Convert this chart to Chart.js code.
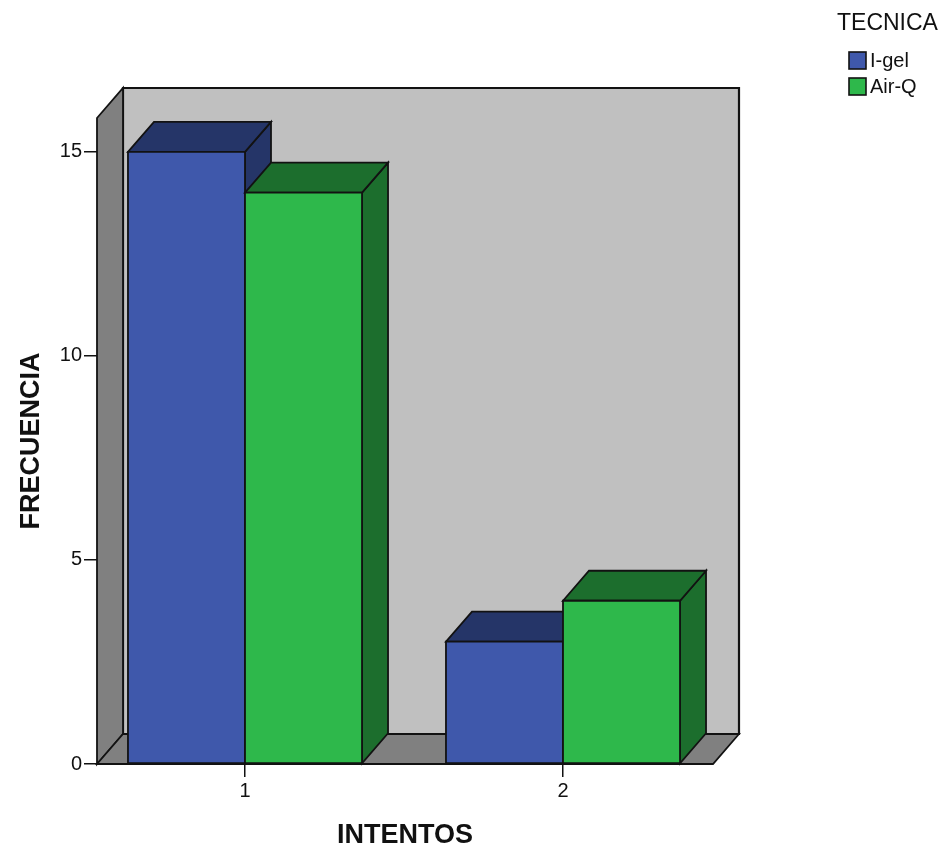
<!DOCTYPE html>
<html>
<head>
<meta charset="utf-8">
<script src="https://cdn.jsdelivr.net/npm/chart.js@4/dist/chart.umd.min.js"></script>
<style>
  html, body { margin: 0; padding: 0; background: #ffffff; }
  #wrap { width: 945px; height: 850px; }
</style>
</head>
<body>
<div id="wrap"><canvas id="chart" width="945" height="850"></canvas></div>
<script>
// Number of attempts (INTENTOS) per technique (TECNICA)
const categories = ['1', '2'];
const seriesNames = ['I-gel', 'Air-Q'];
const igelValues = [15, 3];
const airqValues = [14, 4];
const yTickValues = [0, 5, 10, 15];

// Numeric positions of the categories along the x axis
const positions = categories.map((c, i) => i + 1);

const FRONT = ['#3f58ab', '#2eb84b'];
const SHADE = ['#253568', '#1c6e2d'];
const DX = 26, DY = -30;          // depth offset of the 3D box
const EDGE = '#121212';

function poly(ctx, pts, fill, stroke, lw) {
  ctx.beginPath();
  ctx.moveTo(pts[0][0], pts[0][1]);
  for (let k = 1; k < pts.length; k++) ctx.lineTo(pts[k][0], pts[k][1]);
  ctx.closePath();
  ctx.fillStyle = fill;
  ctx.fill();
  ctx.lineWidth = lw;
  ctx.strokeStyle = stroke;
  ctx.stroke();
}

// Draws the walls, the floor and the bars as boxes using the bar geometry
const box3d = {
  id: 'box3d',
  beforeDatasetsDraw(chart) {
    const { ctx, chartArea: a } = chart;
    const L = a.left, R = a.right, T = a.top, B = a.bottom;
    ctx.save();
    ctx.lineJoin = 'miter';
    poly(ctx, [[L + DX, T + DY], [R + DX, T + DY], [R + DX, B + DY], [L + DX, B + DY]], '#c0c0c0', EDGE, 2.2);
    poly(ctx, [[L, B], [L, T], [L + DX, T + DY], [L + DX, B + DY]], '#808080', EDGE, 1.8);
    poly(ctx, [[L, B], [R, B], [R + DX, B + DY], [L + DX, B + DY]], '#808080', EDGE, 1.8);

    const metas = chart.data.datasets.map((d, i) => chart.getDatasetMeta(i));
    for (let j = 0; j < categories.length; j++) {
      for (let i = 0; i < metas.length; i++) {
        const el = metas[i].data[j];
        if (!el) continue;
        const p = el.getProps(['x', 'y', 'base', 'width'], true);
        const xl = p.x - p.width / 2, xr = p.x + p.width / 2;
        const top = Math.min(p.y, p.base), bot = Math.max(p.y, p.base);
        // side face
        poly(ctx, [[xr, top], [xr + DX, top + DY], [xr + DX, bot + DY], [xr, bot]], SHADE[i], EDGE, 1.8);
        // top face
        poly(ctx, [[xl, top], [xr, top], [xr + DX, top + DY], [xl + DX, top + DY]], SHADE[i], EDGE, 1.8);
        // front face
        poly(ctx, [[xl, top], [xr, top], [xr, bot], [xl, bot]], FRONT[i], EDGE, 1.8);
      }
    }
    ctx.restore();
    return false;
  },
  afterDraw(chart) {
    const ctx = chart.ctx;
    ctx.save();
    ctx.fillStyle = '#111';
    ctx.textBaseline = 'middle';
    ctx.textAlign = 'left';
    ctx.font = '23px "Liberation Sans", Arial, sans-serif';
    ctx.fillText('TECNICA', 837, 24);
    ctx.font = '20px "Liberation Sans", Arial, sans-serif';
    chart.data.datasets.forEach((ds, i) => {
      const y = 52 + i * 26;
      ctx.fillStyle = ds.backgroundColor;
      ctx.fillRect(849, y, 17, 17);
      ctx.lineWidth = 1.6;
      ctx.strokeStyle = EDGE;
      ctx.strokeRect(849, y, 17, 17);
      ctx.fillStyle = '#111';
      ctx.fillText(ds.label, 870, y + 9);
    });
    ctx.restore();
  }
};

const tickFont = { family: '"Liberation Sans", Arial, sans-serif', size: 20 };
const titleFont = { family: '"Liberation Sans", Arial, sans-serif', size: 27, weight: 'bold' };

new Chart(document.getElementById('chart'), {
  type: 'bar',
  data: {
    datasets: [
      { label: seriesNames[0], data: positions.map((x, k) => ({ x, y: igelValues[k] })), backgroundColor: FRONT[0] },
      { label: seriesNames[1], data: positions.map((x, k) => ({ x, y: airqValues[k] })), backgroundColor: FRONT[1] }
    ]
  },
  options: {
    responsive: false,
    animation: false,
    devicePixelRatio: 1,
    categoryPercentage: 0.736,
    barPercentage: 1,
    layout: { padding: { left: 0, top: 118, right: 232, bottom: 0 } },
    plugins: { legend: { display: false }, tooltip: { enabled: false } },
    scales: {
      x: {
        type: 'linear',
        min: 0.5346,
        max: 2.4717,
        offset: false,
        grid: { display: true, drawOnChartArea: false, offset: false, tickLength: 13, color: '#111', lineWidth: 1.5 },
        border: { display: false },
        afterBuildTicks: s => { s.ticks = positions.map(v => ({ value: v })); },
        afterFit: s => { s.height = 86; },
        ticks: {
          font: tickFont, color: '#111', padding: 2, maxRotation: 0, autoSkip: false,
          callback: v => categories[positions.indexOf(v)]
        },
        title: { display: true, text: 'INTENTOS', font: titleFont, color: '#111', padding: { top: 0, bottom: -2 } }
      },
      y: {
        type: 'linear',
        min: 0,
        max: 15.83,
        grid: { display: true, drawOnChartArea: false, tickLength: 13, color: '#111', lineWidth: 1.5 },
        border: { display: false },
        afterBuildTicks: s => { s.ticks = yTickValues.map(v => ({ value: v })); },
        afterFit: s => { s.width = 97; },
        ticks: { font: tickFont, color: '#111', padding: 2 },
        title: { display: true, text: 'FRECUENCIA', font: titleFont, color: '#111', padding: { top: 15, bottom: 0 } }
      }
    }
  },
  plugins: [box3d]
});
</script>
</body>
</html>
